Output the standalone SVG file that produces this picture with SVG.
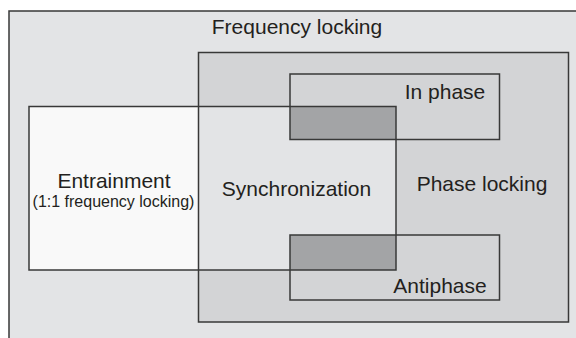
<svg xmlns="http://www.w3.org/2000/svg" width="576" height="338" viewBox="0 0 576 338">
<style>
  .ln { fill: none; stroke: #383838; stroke-width: 1.5; }
  .t { font-family: "Liberation Sans", Arial, sans-serif; font-size: 21px; fill: #231f20; text-anchor: middle; }
  .ts { font-family: "Liberation Sans", Arial, sans-serif; font-size: 16px; fill: #231f20; text-anchor: middle; }
  .outer { fill: #e3e4e6; }
  .phase { fill: #d3d4d6; }
  .dark { fill: #a3a4a6; }
  .white { fill: #f9f9f9; }
</style>
<rect x="0" y="0" width="576" height="338" fill="#ffffff"/>
<g id="frequency-locking">
  <rect class="outer" x="9" y="11" width="600" height="400"/>
  <rect class="ln" x="9" y="11" width="600" height="400"/>
  <text class="t" x="297" y="34">Frequency locking</text>
</g>
<g id="phase-locking">
  <rect class="phase" x="198.5" y="52.5" width="370" height="269.5"/>
  <text class="t" x="482" y="191">Phase locking</text>
</g>
<g id="entrainment">
  <rect class="white" x="29" y="106.5" width="169.5" height="163.5"/>
  <text class="t" x="114" y="188">Entrainment</text>
  <text class="ts" x="113.5" y="207">(1:1 frequency locking)</text>
</g>
<g id="synchronization">
  <rect class="outer" x="198.5" y="106.5" width="197.5" height="163.5"/>
  <text class="t" x="296.5" y="196">Synchronization</text>
</g>
<g id="in-phase">
  <rect class="dark" x="290" y="106.5" width="106" height="33"/>
  <text class="t" x="445" y="99">In phase</text>
</g>
<g id="antiphase">
  <rect class="dark" x="290" y="235" width="106" height="35"/>
  <text class="t" x="440" y="293">Antiphase</text>
</g>
<g id="outlines">
  <rect class="ln" x="198.5" y="52.5" width="370" height="269.5"/>
  <rect class="ln" x="290" y="74" width="209.5" height="65.5"/>
  <rect class="ln" x="290" y="235" width="209.5" height="65"/>
  <rect class="ln" x="29" y="106.5" width="367" height="163.5"/>
</g>
<g id="connectors"></g>
</svg>
